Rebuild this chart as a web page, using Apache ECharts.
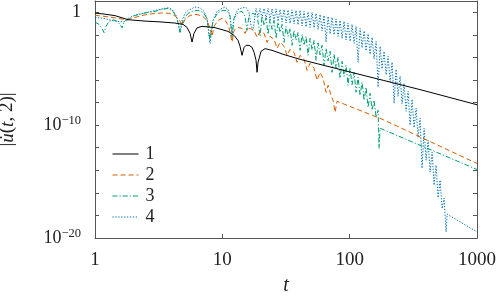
<!DOCTYPE html>
<html>
<head>
<meta charset="utf-8">
<script src="https://cdn.jsdelivr.net/npm/echarts@6/dist/echarts.min.js"></script>
<style>html,body{margin:0;padding:0;background:#fff}#c{width:498px;height:297px}</style>
</head>
<body>
<div id="c"></div>
<script>
// [t, |u(t,2)|] pairs
const s1 = [[1,0.85],[1.2,0.68],[1.44,0.50],[1.82,0.22],[2.47,0.166],[3.24,0.141],[4.25,0.111],[4.91,0.085],[5.28,0.046],[5.58,0.0136],[5.78,0.0023],[5.99,0.0136],[6.33,0.042],[6.93,0.0565],[8.76,0.0434],[11.08,0.0204],[12.36,0.009],[13.28,0.00326],[13.77,9.6e-4],[14.28,1.53e-4],[14.81,7.8e-4],[15.36,1.18e-3],[16.21,1.18e-3],[17.12,7.8e-4],[17.75,2.8e-4],[18.4,5.5e-5],[18.74,4.8e-6],[19.08,3.7e-5],[20.14,3.5e-4],[21.65,6.0e-4],[24.57,4.25e-4],[30,1.9e-4],[40.8,6.8e-5],[55.5,2.8e-5],[100.7,5.1e-6],[183,9.4e-7],[357,1.41e-7],[1000,6.4e-9]];

const s2 = [[1,0.53],[1.2,0.43],[1.44,0.32],[1.78,0.21],[2.06,0.354],[2.47,0.59],[2.96,0.80],[3.42,0.885],[3.88,0.80],[4.25,0.48],[4.57,0.235],[4.83,0.069],[5.09,0.235],[5.58,0.53],[6.22,0.65],[6.93,0.48],[7.45,0.235],[7.86,0.069],[8.3,7.4e-3],[8.61,0.0565],[9.25,0.19],[9.95,0.29],[10.7,0.157],[11.29,0.046],[11.92,2.3e-3],[12.36,0.025],[13.28,0.046],[14.28,0.0376],[15.08,0.0136],[15.63,0.0307],[16.51,0.0376],[17.75,0.025],[18.74,6.0e-3],[19.78,0.0204],[21.27,0.0136],[22.45,2.17e-3],[23.7,7.4e-3],[25.48,4.0e-3],[26.9,6.4e-4],[28.4,2.17e-3],[30.54,9.6e-4],[32.23,1.53e-4],[34.03,5.2e-4],[36.58,2.8e-4],[38.63,3.7e-5],[40.78,1.53e-4],[43.84,6.8e-5],[46.29,7.2e-6],[48.87,3.0e-5],[52.53,1.08e-5],[55.45,9.4e-7],[58.55,4.8e-6],[61.81,1.41e-6],[65.26,8.2e-8],[67.67,3.4e-7],[71.45,4.4e-8],[74.08,1.6e-8],[76.81,1.39e-9],[79.64,1.3e-8],[183,3.1e-10],[1000,4.0e-14]];

const s3 = [[1,0.136],[1.075,0.085],[1.135,0.0376],[1.177,0.0157],[1.22,0.0565],[1.288,0.157],[1.385,0.22],[1.489,0.157],[1.572,0.085],[1.63,0.042],[1.69,0.128],[1.816,0.29],[2.062,0.53],[2.471,0.885],[2.96,1.2],[3.36,1.8],[3.75,2.2],[4.1,1.2],[4.41,0.29],[4.65,0.0166],[4.91,0.19],[5.38,0.80],[5.89,1.33],[6.44,1.47],[7.05,0.98],[7.58,0.29],[8.0,3.26e-3],[8.45,0.19],[9.25,0.98],[10.13,1.47],[10.9,1.47],[11.5,0.43],[11.92,6.0e-3],[12.36,0.29],[13.28,0.98],[14.28,1.2],[15.08,0.43],[15.63,0.025],[16.21,0.53],[17.43,0.80],[18.74,0.53],[19.78,7.4e-3],
  [20.50,0.43],[21.27,0.069],[22.05,0.32],[22.86,0.0111],[23.70,0.235],[24.57,0.0307],[25.48,0.173],[26.42,4.9e-3],[27.39,0.128],[28.40,0.0166],[29.44,0.085],[30.53,2.17e-3],[31.65,0.0565],[32.82,7.4e-3],[34.03,0.0376],[35.28,1.18e-3],[36.58,0.025],[37.93,3.26e-3],[39.33,0.0166],[40.78,4.25e-4],[42.28,0.0111],[43.84,1.18e-3],[45.46,7.4e-3],[47.13,1.53e-4],[48.87,4.9e-3],[50.66,4.7e-4],[52.53,3.26e-3],[54.45,5.5e-5],[56.46,1.96e-3],[58.55,1.7e-4],[60.70,1.18e-3],[62.94,2.0e-5],[65.26,6.4e-4],[67.66,5.0e-5],[70.15,3.5e-4],[72.75,4.8e-6],[75.43,1.9e-4],[78.21,1.08e-5],[81.09,1.02e-4],[84.07,1.41e-6],[87.17,4.5e-5],[90.36,2.1e-6],[93.70,2.0e-5],[97.14,3.4e-7],[100.7,1.08e-5],[104.4,3.8e-7],[108.3,4.8e-6],[112.3,8.2e-8],[116.4,1.73e-6],[120.7,4.4e-8],[125.1,6.3e-7],[129.8,1.6e-8],[134.5,2.26e-7],[139.5,3.8e-9],[144.7,6.7e-8],[150.0,2.1e-9],[155.5,1.6e-8],[161.3,5.0e-10],[167.2,2.1e-9],[170.2,9.0e-13],[173.4,5.3e-11],[176.5,6.5e-11],[1000,1.18e-14]];

const s4 = [[1,0.354],[1.095,0.32],[1.22,0.26],[1.36,0.19],[1.516,0.157],[1.66,0.141],[1.72,0.104],[1.784,0.19],[1.953,0.43],[2.138,0.61],[2.471,0.885],[2.96,1.47],[3.42,2.08],[3.75,2.55],[4.03,1.8],[4.33,0.53],[4.49,0.128],[4.65,0.0177],[4.83,0.19],[5.09,0.80],[5.38,1.47],[6.1,2.9],[6.68,2.45],[7.18,1.2],[7.58,0.29],[8.0,1.66e-3],[8.45,0.19],[9.09,1.2],[9.95,2.2],[10.5,2.9],[11.08,1.8],[11.5,0.43],[11.92,0.0128],[12.36,0.354],[13.28,1.8],[14.28,2.45],[15.36,2.7],[16.21,0.98],[16.81,0.069],[17.43,0.025],[18.07,0.53],
  [18.40,2.2],[19.08,0.39],[19.78,2.2],[20.50,0.32],[21.27,2.2],[22.05,0.26],[22.86,2.2],[23.70,0.21],[24.57,2.0],[25.48,0.173],[26.42,2.0],[27.39,0.157],[28.40,1.8],[29.44,0.141],[30.53,1.8],[31.65,0.115],[32.82,1.63],[34.03,0.104],[35.28,1.63],[36.58,0.094],[37.93,1.47],[39.33,0.077],[40.78,1.47],[42.28,0.0626],[43.84,1.2],[45.46,0.051],[47.13,1.08],[48.87,0.046],[50.66,0.98],[52.53,0.042],[54.45,0.80],[56.46,0.0307],[58.55,0.65],[60.70,0.0226],[62.94,0.53],[65.26,2.3e-3],[67.66,0.43],[70.15,0.0123],[72.75,0.354],[75.43,0.010],[78.21,0.26],[81.09,7.4e-3],[84.07,0.19],[87.17,4.9e-3],[90.36,0.157],[93.70,3.6e-3],[97.14,0.115],[100.7,2.66e-3],[104.4,0.085],[108.3,1.77e-3],[112.3,0.0565],[116.4,3.7e-5],[120.7,0.0376],[125.1,7.1e-4],[129.8,0.0226],[134.5,3.8e-4],[139.5,0.0123],[144.7,1.9e-4],[150.0,6.0e-3],[155.5,7.5e-5],[161.3,2.66e-3],[167.2,2.4e-7],[173.4,9.6e-4],[179.7,9.8e-6],[186.3,3.5e-4],[193.2,2.9e-6],[200.3,1.25e-4],[207.7,6.9e-7],[215.4,3.7e-5],[223.3,8.7e-9],[231.5,8.9e-6],[240.0,3.6e-8],[248.9,2.1e-6],[258.0,7.8e-9],[267.6,5.1e-7],[277.4,1.7e-9],[287.6,1.0e-7],[298.2,9.8e-11],[309.2,1.96e-8],[320.6,5.9e-11],[332.4,3.1e-9],[344.6,7.7e-12],[357.3,4.1e-10],[370.5,1.53e-14],[384.1,5.3e-11],[398.3,7.8e-14],[413.0,4.6e-12],[428.2,6.8e-15],[444.0,4.0e-13],[460.3,4.8e-16],[477.2,2.8e-14],[494.9,3.8e-17],[513.1,1.33e-15],[532.0,4.0e-18],[551.5,3.4e-17],[571.8,3.5e-20],[582.3,1.3e-18],[593,1.06e-18],[1000,3.5e-20]];

const seriesNames = ['1','2','3','4'];
const seriesColors = ['#000000','#D55E00','#009E73','#0072B2'];
const xTickLabels = ['1','10','100','1000'];
const yTickLabels = {'0':'1','-10':'−10','-20':'−20'};

const FONT = 'Liberation Serif';
const toLog = s => s.map(p => [Math.log10(p[0]), Math.log10(p[1])]);
const dashes = [null, [5,3], [5,2,1.2,2], [1.3,1.6]];
const datasets = [s1,s2,s3,s4];

const chart = echarts.init(document.getElementById('c'), null, {renderer:'canvas'});
const axisCol = '#555';
const baseX = {
  type:'value', min:0, max:3, interval:1,
  splitLine:{show:false},
  axisLine:{show:true, onZero:false, lineStyle:{color:axisCol, width:1}},
  axisTick:{show:true, inside:true, length:4, lineStyle:{color:axisCol}}
};
const baseY = {
  type:'value', min:-20, max:1, interval:2,
  splitLine:{show:false},
  axisLine:{show:true, onZero:false, lineStyle:{color:axisCol, width:1}},
  axisTick:{show:true, inside:true, length:4, lineStyle:{color:axisCol}}
};
chart.setOption({
  animation:false,
  backgroundColor:'#fff',
  grid:{left:95, right:21, top:1, bottom:59, containLabel:false, outerBoundsMode:'none'},
  xAxis:[
    Object.assign({}, baseX, {
      position:'bottom',
      axisLabel:{show:true, margin:13, fontFamily:FONT, fontSize:19, color:'#222',
        formatter: v => xTickLabels[Math.round(v)] || ''},
      name:'t', nameLocation:'middle', nameGap:38,
      nameTextStyle:{fontFamily:FONT, fontSize:20, fontStyle:'italic', color:'#222'}
    }),
    Object.assign({}, baseX, {position:'top', axisLabel:{show:false}})
  ],
  yAxis:[
    Object.assign({}, baseY, {
      position:'left',
      axisLabel:{show:true, margin:14, color:'#222',
        formatter: v => {
          const k = String(Math.round(v));
          if (!(k in yTickLabels)) return '';
          if (k === '0') return '{n|1}';
          return '{n|10}{s|' + yTickLabels[k] + '}';
        },
        rich:{
          n:{fontFamily:FONT, fontSize:18, color:'#222', lineHeight:22},
          s:{fontFamily:FONT, fontSize:12.5, color:'#222', verticalAlign:'top', lineHeight:14}
        }
      },
      name:'{p||}{i|u̇}{p|(}{i|t}{p|, 2)|}', nameLocation:'middle', nameGap:78, nameRotate:90,
      nameTextStyle:{rich:{
        p:{fontFamily:FONT, fontSize:19, color:'#222'},
        i:{fontFamily:FONT, fontSize:19, color:'#222', fontStyle:'italic'}
      }}
    }),
    Object.assign({}, baseY, {position:'right', axisLabel:{show:false}})
  ],
  legend:{
    orient:'vertical', left:112, top:145, padding:0,
    itemWidth:26, itemHeight:10, itemGap:3,
    data:seriesNames,
    itemStyle:{opacity:0, color:'rgba(0,0,0,0)', borderColor:'rgba(0,0,0,0)', borderWidth:0},
    lineStyle:{width:1},
    textStyle:{fontFamily:FONT, fontSize:18, color:'#222', lineHeight:18, padding:[0,0,0,2]}
  },
  series: datasets.map((s,i) => ({
    name:seriesNames[i], type:'line', data:toLog(s),
    symbol:'none', showSymbol:false, smooth:false,
    xAxisIndex:0, yAxisIndex:0, clip:true,
    lineStyle:{color:seriesColors[i], width:1, type: dashes[i] || 'solid'},
    itemStyle:{color:seriesColors[i]},
    z: 10 - i
  }))
});
</script>
</body>
</html>
